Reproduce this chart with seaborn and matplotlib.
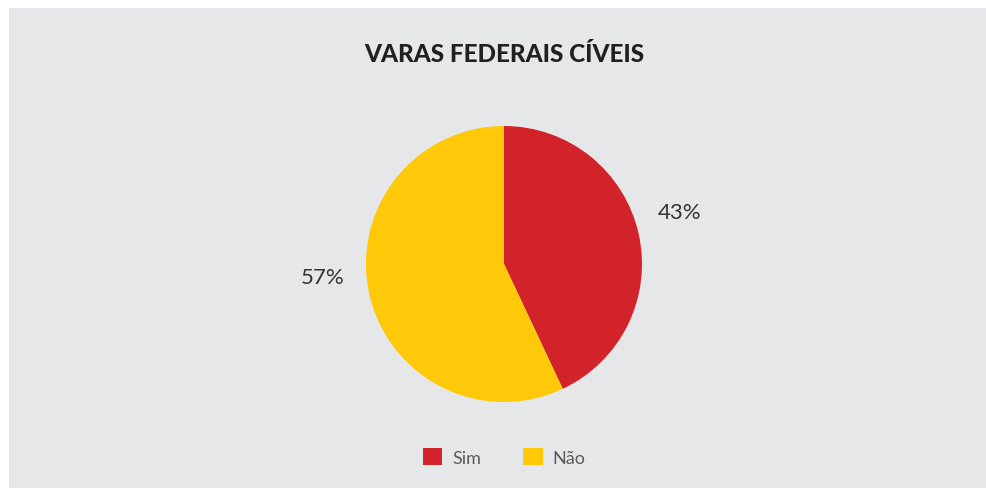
import matplotlib
matplotlib.use("Agg")
import matplotlib.pyplot as plt
from matplotlib.patches import Rectangle, Patch
import numpy as np
import seaborn as sns

title = "VARAS FEDERAIS CÍVEIS"
categories = ["Sim", "Não"]
values = [43, 57]
colors = ["#D2232A", "#FFC90A"]

sns.set_theme(style="white")
plt.rcParams['font.family'] = ['Lato', 'DejaVu Sans']

W, H = 987, 489
fig = plt.figure(figsize=(W / 100, H / 100), dpi=100)
fig.patch.set_facecolor("white")
fig.patches.append(Rectangle((9 / W, 0), 1 - 9 / W, 1 - 9 / H, transform=fig.transFigure,
                             facecolor="#E6E7E8", edgecolor="none", zorder=-10))

cx, cy, r = 504, 265, 138
ax = fig.add_axes([(cx - r) / W, (H - cy - r) / H, 2 * r / W, 2 * r / H])
palette = sns.color_palette(colors)
wedges, texts, autotexts = ax.pie(values, colors=palette, startangle=90, counterclock=False,
                                  autopct=lambda p: f"{p:.0f}%", pctdistance=1.32,
                                  wedgeprops=dict(linewidth=0))
# label placement (angle offset in degrees, radial distance)
label_adjust = [(4.0, 1.33), (-8.5, 1.32)]
for w, t, (da, dist) in zip(wedges, autotexts, label_adjust):
    ang = np.deg2rad((w.theta1 + w.theta2) / 2 + da)
    t.set_position((dist * np.cos(ang), dist * np.sin(ang)))
    t.set_fontsize(16)
    t.set_fontweight("normal")
    t.set_color("#333333")
ax.set_xlim(-1, 1)
ax.set_ylim(-1, 1)
ax.set_aspect("equal")
ax.axis("off")

fig.text(cx / W, 1 - 55 / H, title, ha="center", va="center", fontsize=17.5,
         fontweight="black", color="#231F20")

handles = [Patch(facecolor=c, edgecolor="none") for c in colors]
leg = fig.legend(handles, categories, loc="center", bbox_to_anchor=(cx / W, 1 - 458 / H),
                 ncol=2, frameon=False, fontsize=13, handlelength=1.1, handleheight=1.1,
                 handletextpad=0.55, columnspacing=2.3)
for t in leg.get_texts():
    t.set_color("#58595B")
    t.set_fontweight("normal")

fig.savefig("out.png", dpi=100)
